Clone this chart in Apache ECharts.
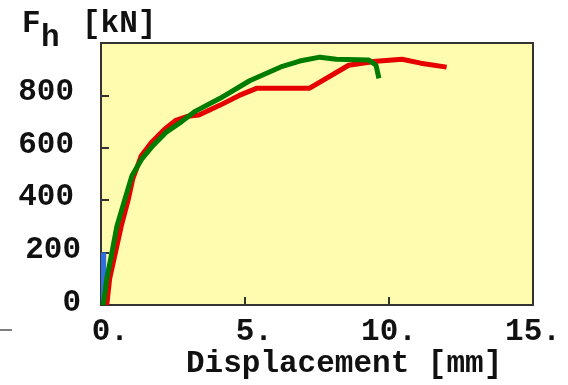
<!DOCTYPE html>
<html>
<head>
<meta charset="utf-8">
<script src="https://cdn.jsdelivr.net/npm/echarts@6/dist/echarts.min.js"></script>
<style>
  html, body { margin: 0; padding: 0; background: #fff; }
  #chart { width: 568px; height: 385px; }
</style>
</head>
<body>
<div id="chart"></div>
<script>
// Load–displacement curves: horizontal force F_h [kN] against displacement [mm]
const xTicks = [0, 5, 10, 15];
const yTicks = [0, 200, 400, 600, 800];

// Test curve 1 (red)
const redDisp  = [0.20, 0.30, 0.50, 0.70, 0.95, 1.10, 1.40, 1.75, 2.20, 2.60, 3.00, 3.40, 4.12, 4.80, 5.40, 7.23, 8.60, 9.55, 10.45, 11.10, 12.00];
const redForce = [0,    100,  200,  300,  404,  480,  570,  620,  670,  705,  720,  725,  762,  800,  827,  827,  915,  930,  938,   923,   908];

// Test curve 2 (green)
const greenDisp  = [0.08, 0.20, 0.38, 0.55, 0.83, 1.07, 1.42, 1.80, 2.28, 2.80, 3.25, 4.12, 5.16, 6.30, 6.90, 7.60, 8.17, 9.30, 9.55, 9.65];
const greenForce = [0,    100,  200,  300,  404,  492,  558,  608,  661,  700,  738,  788,  856,  911,  931,  946,  938,  935,  915,  865];

// Initial elastic region marker (blue)
const elasticBox = { x0: 0, x1: 0.18, y0: 0, y1: 200 };

const FONT = 'Liberation Mono';
const SIZE = 31;
const pairs = (xs, ys) => xs.map((x, i) => [x, ys[i]]);

const chart = echarts.init(document.getElementById('chart'), null, { renderer: 'canvas' });

chart.setOption({
  animation: false,
  backgroundColor: '#ffffff',
  grid: {
    left: 101, right: 35, top: 43, bottom: 80,
    show: true,
    backgroundColor: '#fffcb0',
    borderColor: '#333333',
    borderWidth: 2
  },
  xAxis: {
    type: 'value',
    min: xTicks[0], max: xTicks[xTicks.length - 1], interval: 5,
    axisLine: { show: false },
    splitLine: { show: false },
    axisTick: { show: true, inside: true, length: 8, lineStyle: { color: '#333', width: 2 } },
    axisLabel: {
      margin: 12,
      color: '#111',
      fontFamily: FONT, fontWeight: 'bold', fontSize: SIZE,
      formatter: v => (v < 10 ? ' ' : '') + v + '.'
    }
  },
  yAxis: {
    type: 'value',
    min: 0, max: 1000, interval: 200,
    axisLine: { show: false },
    splitLine: { show: false },
    axisTick: { show: true, inside: true, length: 8, lineStyle: { color: '#333', width: 2 } },
    axisLabel: {
      margin: 20,
      color: '#111',
      fontFamily: FONT, fontWeight: 'bold', fontSize: SIZE,
      formatter: v => {
        if (yTicks.indexOf(v) < 0) return '';
        return v >= 400 ? '{w|' + v + '}' : '{n|' + v + '}';
      },
      rich: {
        w: { fontFamily: FONT, fontWeight: 'bold', fontSize: SIZE, color: '#111', padding: [0, 7, 6, 0] },
        n: { fontFamily: FONT, fontWeight: 'bold', fontSize: SIZE, color: '#111', padding: [0, 0, 4, 0] }
      }
    }
  },
  series: [
    {
      name: 'red',
      type: 'line',
      data: pairs(redDisp, redForce),
      showSymbol: false,
      lineStyle: { color: '#e60000', width: 5 },
      z: 2,
      markArea: {
        silent: true,
        itemStyle: { color: '#2f6fe0', opacity: 1 },
        data: [[{ coord: [elasticBox.x0, elasticBox.y0] }, { coord: [elasticBox.x1, elasticBox.y1] }]]
      }
    },
    {
      name: 'green',
      type: 'line',
      data: pairs(greenDisp, greenForce),
      showSymbol: false,
      lineStyle: { color: '#007c00', width: 5 },
      z: 3
    }
  ],
  graphic: [
    { type: 'text', left: 22, top: 9, style: { text: 'F', font: 'bold ' + SIZE + 'px ' + FONT, fill: '#111' } },
    { type: 'text', left: 41, top: 23, style: { text: 'h', font: 'bold ' + SIZE + 'px ' + FONT, fill: '#111' } },
    { type: 'text', left: 82, top: 9, style: { text: '[kN]', font: 'bold ' + SIZE + 'px ' + FONT, fill: '#111' } },
    { type: 'text', left: 186, top: 349, style: { text: 'Displacement [mm]', font: 'bold ' + SIZE + 'px ' + FONT, fill: '#111' } },
    { type: 'line', shape: { x1: 0, y1: 330, x2: 12, y2: 330 }, style: { stroke: '#555', lineWidth: 1.5 } }
  ]
});
</script>
</body>
</html>
